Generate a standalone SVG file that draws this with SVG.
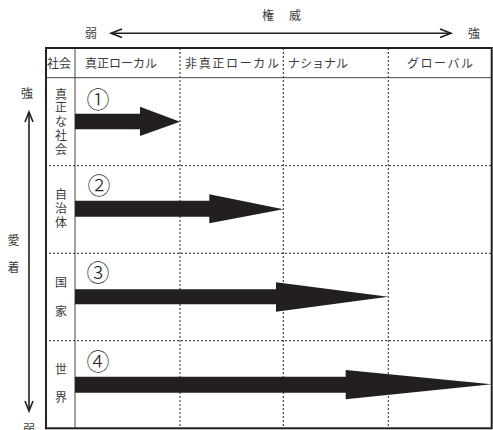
<svg xmlns="http://www.w3.org/2000/svg" width="493" height="430" viewBox="0 0 493 430">
<style>
text{font-family:"Noto Sans CJK JP","Noto Sans",sans-serif;fill:#3a3a3a;font-size:12px}
.num{font-size:23px;fill:#231f20;font-weight:300}
.vert{writing-mode:vertical-rl}
.dot{stroke:#231f20;stroke-width:1;stroke-dasharray:2 2;fill:none}
.solid{stroke:#444;stroke-width:1;fill:none}
.axis{stroke:#231f20;stroke-width:1.6;fill:none}
.arr{fill:#231f20}
</style>
<rect x="0" y="0" width="493" height="430" fill="#fff"/>
<g id="axis-top">
<text x="268" y="20" text-anchor="middle">権</text>
<text x="295" y="20" text-anchor="middle">威</text>
<text x="91" y="38" text-anchor="middle">弱</text>
<text x="474" y="38" text-anchor="middle">強</text>
<line class="axis" x1="111" y1="33.3" x2="451" y2="33.3"/>
<polyline class="axis" points="122,29 111,33.3 122,37.6"/>
<polyline class="axis" points="440,29 451,33.3 440,37.6"/>
</g>
<g id="axis-left">
<text x="27" y="98" text-anchor="middle">強</text>
<text x="13.5" y="244.5" text-anchor="middle">愛</text>
<text x="13.5" y="272" text-anchor="middle">着</text>
<text x="29" y="434" text-anchor="middle">弱</text>
<line class="axis" x1="29" y1="112" x2="29" y2="411"/>
<polyline class="axis" points="25,122 29,112 33,122"/>
<polyline class="axis" points="25,401 29,411 33,401"/>
</g>
<g id="table">
<line class="dot" x1="45" y1="165.7" x2="491.7" y2="165.7"/>
<line class="dot" x1="45" y1="253.3" x2="491.7" y2="253.3"/>
<line class="dot" x1="45" y1="340.7" x2="491.7" y2="340.7"/>
<line class="dot" x1="180" y1="48" x2="180" y2="428"/>
<line class="dot" x1="283.3" y1="48" x2="283.3" y2="428"/>
<line class="dot" x1="388.3" y1="48" x2="388.3" y2="428"/>
<line class="solid" x1="45" y1="77.7" x2="491.7" y2="77.7"/>
<line class="solid" x1="75" y1="48" x2="75" y2="428"/>
<rect x="46" y="48" width="445.7" height="380.3" fill="none" stroke="#231f20" stroke-width="2"/>
</g>
<g id="header">
<text x="59" y="67.5" text-anchor="middle" font-size="11.5">社会</text>
<text x="85" y="67.5" textLength="72" lengthAdjust="spacing">真正ローカル</text>
<text x="185" y="67.5" textLength="94" lengthAdjust="spacing">非真正ローカル</text>
<text x="318" y="67.5" text-anchor="middle" font-size="11.5">ナショナル</text>
<text x="407" y="67.5" textLength="66" lengthAdjust="spacing">グローバル</text>
</g>
<g id="row1">
<text class="vert" x="61" y="88" letter-spacing="1.8">真正な社会</text>
<text class="num" x="98" y="107.5" text-anchor="middle">①</text>
</g>
<g id="row2">
<text class="vert" x="61" y="188" letter-spacing="2">自治体</text>
<text class="num" x="99" y="193.5" text-anchor="middle">②</text>
</g>
<g id="row3">
<text class="vert" x="61" y="276.5" letter-spacing="16.5">国家</text>
<text class="num" x="98" y="280.5" text-anchor="middle">③</text>
</g>
<g id="row4">
<text class="vert" x="61" y="363" letter-spacing="16.5">世界</text>
<text class="num" x="98" y="369.5" text-anchor="middle">④</text>
</g>
<g id="connectors">
<polygon class="arr" points="75,113.7 140,113.7 140,106.7 180,121.7 140,136 140,129.3 75,129.3"/>
<polygon class="arr" points="75,200.7 209.3,200.7 209.3,194.3 283.3,209.3 209.3,223.3 209.3,216.7 75,216.7"/>
<polygon class="arr" points="75,289.3 276,289.3 276,282.3 388.3,296.7 276,311.7 276,304.3 75,304.3"/>
<polygon class="arr" points="75,376.7 345.7,376.7 345.7,370 491.7,384.3 345.7,399.3 345.7,392.7 75,392.7"/>
</g>
</svg>
